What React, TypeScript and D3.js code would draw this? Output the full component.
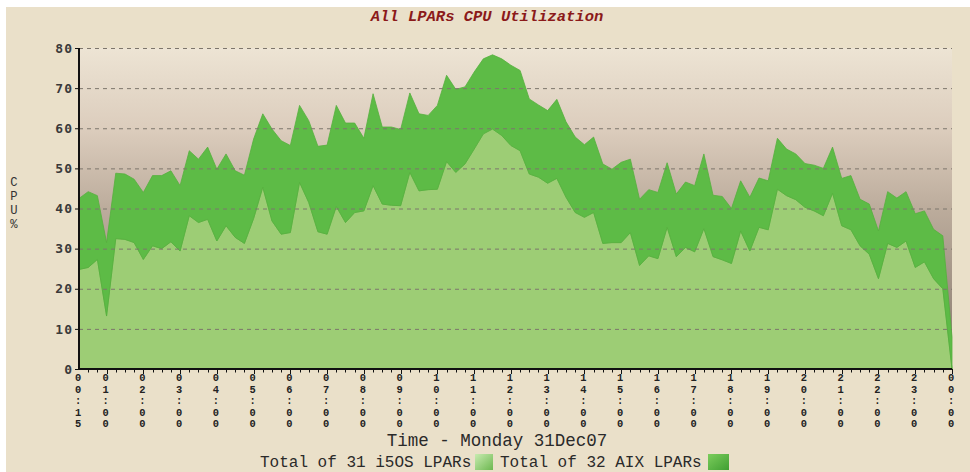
import React, { useEffect, useRef } from "react";
import * as d3 from "d3";

// CPU % per 15-minute sample, 00:15 .. 24:00
const i5osCpu = [
  24.8, 25.3, 27.3, 13.2, 32.5, 32.3, 31.5, 27.3, 30.7, 30.0, 31.7, 29.4,
  38.2, 36.5, 37.3, 31.9, 35.7, 32.8, 31.3, 37.5, 45.3, 36.9, 33.6, 34.0,
  46.5, 41.5, 34.2, 33.6, 40.5, 36.5, 39.0, 39.4, 45.7, 41.1, 40.8, 40.7,
  49.0, 44.4, 44.7, 44.8, 51.7, 49.0, 51.1, 54.8, 58.6, 59.8, 58.2, 55.7,
  54.4, 48.6, 47.8, 46.3, 47.5, 42.8, 39.0, 37.8, 39.0, 31.3, 31.5, 31.5,
  34.0, 25.8, 28.2, 27.5, 35.3, 28.0, 30.3, 29.2, 35.0, 28.0, 27.2, 26.3,
  34.4, 29.4, 35.3, 34.7, 44.8, 43.2, 42.2, 40.3, 39.4, 38.2, 43.8, 35.7,
  34.7, 30.7, 28.6, 22.5, 31.3, 30.3, 31.9, 25.3, 26.7, 22.5, 20.0, 0.0,
];
const aixCpu = [
  17.7, 18.9, 15.9, 18.3, 16.3, 16.3, 15.8, 16.7, 17.5, 18.2, 17.7, 16.3,
  16.2, 15.8, 18.0, 17.9, 17.9, 16.6, 17.0, 19.8, 18.3, 22.9, 23.3, 21.7,
  19.2, 20.4, 21.3, 22.2, 25.2, 24.8, 22.3, 18.1, 22.9, 19.2, 19.5, 19.0,
  19.8, 19.2, 18.5, 20.9, 21.5, 20.7, 19.2, 19.2, 18.7, 18.5, 19.1, 20.0,
  20.0, 18.7, 18.0, 18.1, 19.7, 18.8, 18.8, 18.1, 18.8, 19.8, 18.3, 20.0,
  18.3, 16.5, 16.5, 16.5, 16.1, 15.6, 16.3, 16.5, 18.6, 15.3, 15.8, 13.7,
  12.5, 13.4, 12.3, 12.2, 12.7, 11.6, 11.4, 10.9, 11.4, 11.8, 11.5, 11.8,
  13.5, 11.6, 12.5, 11.9, 12.9, 12.3, 12.3, 13.4, 12.7, 12.3, 13.2, 8.0,
];
const sampleHours = i5osCpu.map((_, i) => 0.25 + i * 0.25);

const tickHours = [0.25, 1, 2, 3, 4, 5, 6, 7, 8, 9, 10, 11, 12, 13, 14, 15, 16, 17, 18, 19, 20, 21, 22, 23, 24];
const tickLabels = [
  "00:15", "01:00", "02:00", "03:00", "04:00", "05:00", "06:00", "07:00", "08:00",
  "09:00", "10:00", "11:00", "12:00", "13:00", "14:00", "15:00", "16:00", "17:00",
  "18:00", "19:00", "20:00", "21:00", "22:00", "23:00", "00:00",
];
const yTicks = [0, 10, 20, 30, 40, 50, 60, 70, 80];
const seriesKeys = ["i5os", "aix"];
const legendLabels = ["Total of 31 i5OS LPARs", "Total of 32 AIX LPARs"];

const width = 970;
const height = 472;
const mono = "'Liberation Mono', 'DejaVu Sans Mono', monospace";

export default function App() {
  const ref = useRef<SVGSVGElement>(null);

  useEffect(() => {
    const svg = d3.select(ref.current);
    svg.selectAll("*").remove();

    const left = 79, right = 952, top = 48, bottom = 369;
    const x = d3.scaleLinear().domain([0.25, 24]).range([left, right]);
    const y = d3.scaleLinear().domain([0, 80]).range([bottom, top]);

    const defs = svg.append("defs");
    const bg = defs.append("linearGradient").attr("id", "plotbg")
      .attr("x1", 0).attr("y1", 0).attr("x2", 0).attr("y2", 1);
    [["0%", "#ede4d4"], ["25%", "#dccdbd"], ["50%", "#bcac9c"], ["100%", "#85786c"]]
      .forEach(([o, c]) => bg.append("stop").attr("offset", o).attr("stop-color", c));
    const sw1 = defs.append("linearGradient").attr("id", "sw1").attr("x1", 0).attr("y1", 0).attr("x2", 1).attr("y2", 1);
    sw1.append("stop").attr("offset", "0%").attr("stop-color", "#c8ebb0");
    sw1.append("stop").attr("offset", "100%").attr("stop-color", "#6cb850");
    const sw2 = defs.append("linearGradient").attr("id", "sw2").attr("x1", 0).attr("y1", 0).attr("x2", 1).attr("y2", 1);
    sw2.append("stop").attr("offset", "0%").attr("stop-color", "#7ccd5c");
    sw2.append("stop").attr("offset", "100%").attr("stop-color", "#3f9f32");

    // outer frame
    svg.append("rect").attr("width", width).attr("height", height).attr("fill", "#ffffff");
    svg.append("rect").attr("x", 6).attr("y", 7).attr("width", width - 6).attr("height", height - 7).attr("fill", "#eae0c9");

    svg.append("rect").attr("x", left).attr("y", top).attr("width", right - left).attr("height", bottom - top)
      .attr("fill", "url(#plotbg)");

    const rows = sampleHours.map((h, i) => ({ h, i5os: i5osCpu[i], aix: aixCpu[i] }));
    const stacked = d3.stack<any>().keys(seriesKeys)(rows);
    const area = d3.area<any>()
      .x((d) => x(d.data.h))
      .y0((d) => y(d[0]))
      .y1((d) => y(d[1]));
    const fills = ["#9dcd75", "#5dbb46"];
    const strokes = ["#6fbf52", "#55b03e"];

    svg.append("g").selectAll("path").data(stacked).join("path")
      .attr("d", area as any)
      .attr("fill", (_, i) => fills[i])
      .attr("stroke", (_, i) => strokes[i])
      .attr("stroke-width", 0.8);

    // dashed gridlines
    svg.append("g").selectAll("line").data(yTicks.filter((t) => t > 0)).join("line")
      .attr("x1", left).attr("x2", right)
      .attr("y1", (d) => y(d) + 0.5).attr("y2", (d) => y(d) + 0.5)
      .attr("stroke", "#7d766c").attr("stroke-width", 1).attr("stroke-dasharray", "4,4");

    // axes
    const axis = svg.append("g").attr("stroke", "#111");
    axis.append("line").attr("x1", left).attr("x2", left).attr("y1", top).attr("y2", bottom + 1).attr("stroke-width", 2);
    axis.append("line").attr("x1", left - 1).attr("x2", right).attr("y1", bottom).attr("y2", bottom).attr("stroke-width", 2);
    axis.selectAll("line.yt").data(yTicks).join("line").attr("class", "yt")
      .attr("x1", left - 4).attr("x2", left).attr("y1", (d) => y(d) + 0.5).attr("y2", (d) => y(d) + 0.5)
      .attr("stroke-width", 1);
    const minor = d3.range(1, 96).map((i) => 0.25 + i * 0.25);
    axis.selectAll("line.xt").data(minor).join("line").attr("class", "xt")
      .attr("x1", (d) => Math.round(x(d)) + 0.5).attr("x2", (d) => Math.round(x(d)) + 0.5)
      .attr("y1", bottom).attr("y2", (d) => bottom + (Number.isInteger(d) ? 5 : 3.5))
      .attr("stroke-width", 1);

    svg.append("g").selectAll("text").data(yTicks).join("text")
      .attr("x", 73).attr("y", (d) => y(d)).attr("dy", "0.36em")
      .attr("text-anchor", "end")
      .style("font-family", "'DejaVu Sans Mono', monospace").style("font-size", "13px")
      .style("font-weight", "bold").style("letter-spacing", "1px")
      .attr("fill", "#3a3a3a").text((d) => d);

    // x tick labels, one character per line
    const xl = svg.append("g").style("font-family", mono).style("font-size", "10.4px")
      .style("font-weight", "bold").attr("fill", "#222");
    tickHours.forEach((h, i) => {
      const t = xl.append("text").attr("text-anchor", "middle");
      tickLabels[i].split("").forEach((c, j) => {
        t.append("tspan").attr("x", x(h) - 1).attr("y", 381 + j * 11.6).text(c);
      });
    });

    // y axis title
    const yt = svg.append("text").style("font-family", mono).style("font-size", "12.2px")
      .attr("fill", "#333").attr("text-anchor", "middle");
    "CPU%".split("").forEach((c, j) => {
      yt.append("tspan").attr("x", 14).attr("y", 186 + j * 14).text(c);
    });

    svg.append("text").attr("x", 497).attr("y", 446).attr("text-anchor", "middle")
      .style("font-family", mono).style("font-size", "17.5px").attr("fill", "#2a2a2a")
      .text("Time - Monday 31Dec07");

    svg.append("text").attr("x", 487).attr("y", 21).attr("text-anchor", "middle")
      .style("font-family", mono).style("font-size", "15.5px").style("font-weight", "bold")
      .style("font-style", "italic").attr("fill", "#8b1a1a")
      .text("All LPARs CPU Utilization");

    // legend
    const lg = svg.append("g").style("font-family", mono).style("font-size", "16px").attr("fill", "#2a2a2a");
    lg.append("text").attr("x", 260).attr("y", 467).text(legendLabels[0]);
    lg.append("rect").attr("x", 475).attr("y", 454).attr("width", 18).attr("height", 16).attr("fill", "url(#sw1)");
    lg.append("text").attr("x", 500).attr("y", 467).text(legendLabels[1]);
    lg.append("rect").attr("x", 708).attr("y", 454).attr("width", 21).attr("height", 16).attr("fill", "url(#sw2)");
  }, []);

  return (
    <svg ref={ref} width={width} height={height} style={{ position: "absolute", left: 0, top: 0 }} />
  );
}
